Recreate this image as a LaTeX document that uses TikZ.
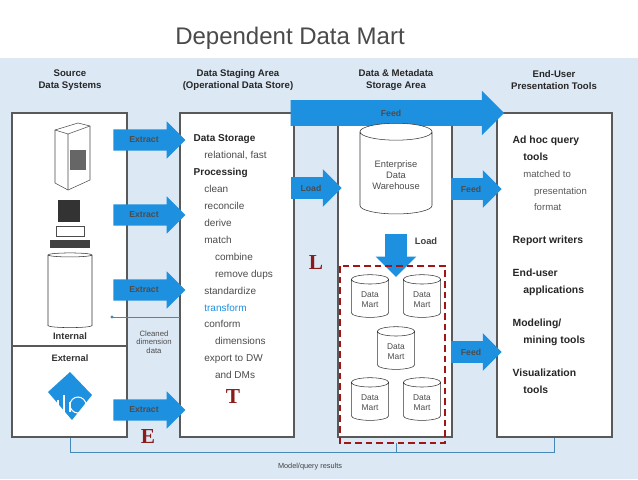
\documentclass[tikz,border=0pt]{standalone}
\usepackage{fontspec}
\setmainfont{Liberation Sans}
\newfontfamily\serifx{Liberation Serif}
\usetikzlibrary{shapes.geometric,shapes.arrows}
\definecolor{bgblue}{HTML}{DCE9F5}
\definecolor{arrblue}{HTML}{1E90E0}
\definecolor{dred}{HTML}{8B1A1A}
\definecolor{ttl}{HTML}{4A4A4A}
\begin{document}
\begin{tikzpicture}[x=0.75pt,y=-0.75pt,
  box/.style={draw=gray!70!black,fill=white,line width=0.8pt},
  hdr/.style={font=\fontsize{7.2}{8.5}\selectfont\bfseries,align=center,text=black!85},
  txt/.style={font=\fontsize{7.5}{12.7}\selectfont,align=left,anchor=north west,text=black!70},
  arr/.style={single arrow,fill=arrblue,draw=none,minimum height=#1,single arrow head extend=6pt,inner xsep=2pt,inner ysep=5.5pt,font=\fontsize{6.5}{7}\selectfont\bfseries,text=black!70},
  cyl/.style={cylinder,shape border rotate=90,draw=black!80,fill=white,aspect=0.35,align=center,font=\fontsize{6.3}{7.5}\selectfont,text=black!70},
  lett/.style={font=\fontsize{16}{16}\selectfont\bfseries\serifx,text=dred},
  ln/.style={draw=arrblue!60!gray,line width=0.7pt}]
\useasboundingbox (0,0) rectangle (638,479);
\fill[white] (0,0) rectangle (638,58);
\fill[bgblue] (0,58) rectangle (638,479);
\node[font=\fontsize{18}{20}\selectfont,text=ttl] (title) at (290,38) {Dependent Data Mart};
% headers
\node[hdr] (h1) at (70,80) {Source\\Data Systems};
\node[hdr] (h2) at (238,80) {Data Staging Area\\(Operational Data Store)};
\node[hdr] (h3) at (396,80) {Data \& Metadata\\Storage Area};
\node[hdr] (h4) at (554,80) {End-User\\Presentation Tools};
% bottom feedback
\coordinate (b1) at (70,437); \coordinate (b2) at (554,437); \coordinate (b3) at (396,443);
\draw[ln] (b1) -- (70,452) -- (554,452) -- (b2);
\draw[ln] (b3) -- (396,452);
\node[font=\fontsize{5.5}{6}\selectfont,text=black!75] (mq) at (310,467) {Model/query results};
% boxes
\draw[box] (12,113) rectangle (127,437);
\draw[draw=gray!70!black,line width=0.8pt] (12,346) -- (127,346);
\draw[box] (180,113) rectangle (294,437);
\draw[box] (338,113) rectangle (452,437);
\draw[box] (497,113) rectangle (612,437);
% source icons
\node[font=\fontsize{7}{7}\selectfont\bfseries,text=black!80] (int) at (70,336) {Internal};
\node[font=\fontsize{7}{7}\selectfont\bfseries,text=black!80] (ext) at (70,358) {External};
% server
\draw[black!70,fill=white] (55,130) -- (78,123) -- (90,126) -- (90,180) -- (68,190) -- (55,183) -- cycle;
\draw[black!70] (68,134) -- (68,190) (55,130) -- (68,134) -- (90,126);
\fill[black!60] (70,150) rectangle (86,170);
% computer
\fill[black!80] (58,200) rectangle (80,222);
\draw[black!70,fill=white] (56,226) rectangle (84,236);
\fill[black!75] (50,240) rectangle (90,248);
% cylinder
\node[cyl,minimum width=33pt,minimum height=56pt,aspect=0.45] (db) at (70,292) {};
% external icon
\fill[arrblue] (48,392) -- (70,372) -- (92,395) -- (72,420) -- cycle;
\draw[white,line width=1pt] (58,400) -- (58,412) (64,395) -- (64,412) (70,402)--(70,412);
\draw[white,line width=0.8pt] (78,405) circle (6pt);
% extract arrows
\foreach \y/\n in {140/e1,215/e2,290/e3,410/e4}
  \node[arr=54pt] (\n) at (144,\y) {Extract\hspace{8pt}};
\node[lett] (E) at (148,437) {E};
% cleaned dimension
\coordinate (cd1) at (180,317); \coordinate (cd2) at (112,317);
\draw[ln] (cd1) -- (cd2); \fill[arrblue!60!gray] (cd2) circle (1.2pt);
\node[font=\fontsize{5.8}{6.5}\selectfont,text=black!70,align=center] (cdt) at (154,342) {Cleaned\\dimension\\data};
% staging text
\node[txt] (st) at (189,130) {\textbf{\color{black!85}Data Storage}\\
\hspace*{8pt}relational, fast\\
\textbf{\color{black!85}Processing}\\
\hspace*{8pt}clean\\
\hspace*{8pt}reconcile\\
\hspace*{8pt}derive\\
\hspace*{8pt}match\\
\hspace*{16pt}combine\\
\hspace*{16pt}remove dups\\
\hspace*{8pt}standardize\\
\hspace*{8pt}{\color{arrblue}transform}\\
\hspace*{8pt}conform\\
\hspace*{16pt}dimensions\\
\hspace*{8pt}export to DW\\
\hspace*{16pt}and DMs};
\node[lett] (T) at (233,397) {T};
\node[lett] (L) at (316,263) {L};
% feed and load
\node[arr=160pt,single arrow head extend=7pt,inner ysep=7pt] (feed) at (391,113) {Feed};
\node[arr=38pt] (load) at (311,188) {Load\hspace{6pt}};
\node[arr=38pt] (f2) at (471,189) {Feed\hspace{6pt}};
\node[arr=38pt] (f3) at (471,352) {Feed\hspace{6pt}};
% EDW
\node[cyl,minimum width=54pt,minimum height=68pt,aspect=0.3,font=\fontsize{7}{8.5}\selectfont] (edw) at (396,175) {Enterprise\\Data\\Warehouse};
\node[single arrow,fill=arrblue,shape border rotate=270,minimum height=32pt,inner xsep=8pt,inner ysep=8pt,single arrow head extend=7pt] (ld) at (396,250) {};
\node[font=\fontsize{7}{7}\selectfont\bfseries,text=black!75] (ldt) at (426,241) {Load};
\draw[dred!80!red,dashed,line width=1.3pt,dash pattern=on 5pt off 3pt] (340,266) rectangle (445,443);
\foreach \x/\y/\n in {370/300/m1,422/300/m2,396/352/m3,370/403/m4,422/403/m5}
  \node[cyl,minimum width=28pt,minimum height=32pt,aspect=0.35] (\n) at (\x,\y) {Data\\Mart};
% end-user text
\node[txt,text=black!85,font=\fontsize{7.8}{12.7}\selectfont] (eu) at (508,131) {\textbf{Ad hoc query}\\\hspace*{8pt}\textbf{tools}\\
\hspace*{8pt}{\color{black!65}\fontsize{7.2}{12.7}\selectfont matched to}\\\hspace*{16pt}{\color{black!65}\fontsize{7.2}{12.7}\selectfont presentation}\\\hspace*{16pt}{\color{black!65}\fontsize{7.2}{12.7}\selectfont format}\\[12pt]
\textbf{Report writers}\\[12pt]
\textbf{End-user}\\\hspace*{8pt}\textbf{applications}\\[12pt]
\textbf{Modeling/}\\\hspace*{8pt}\textbf{mining tools}\\[12pt]
\textbf{Visualization}\\\hspace*{8pt}\textbf{tools}};
\end{tikzpicture}
\end{document}
